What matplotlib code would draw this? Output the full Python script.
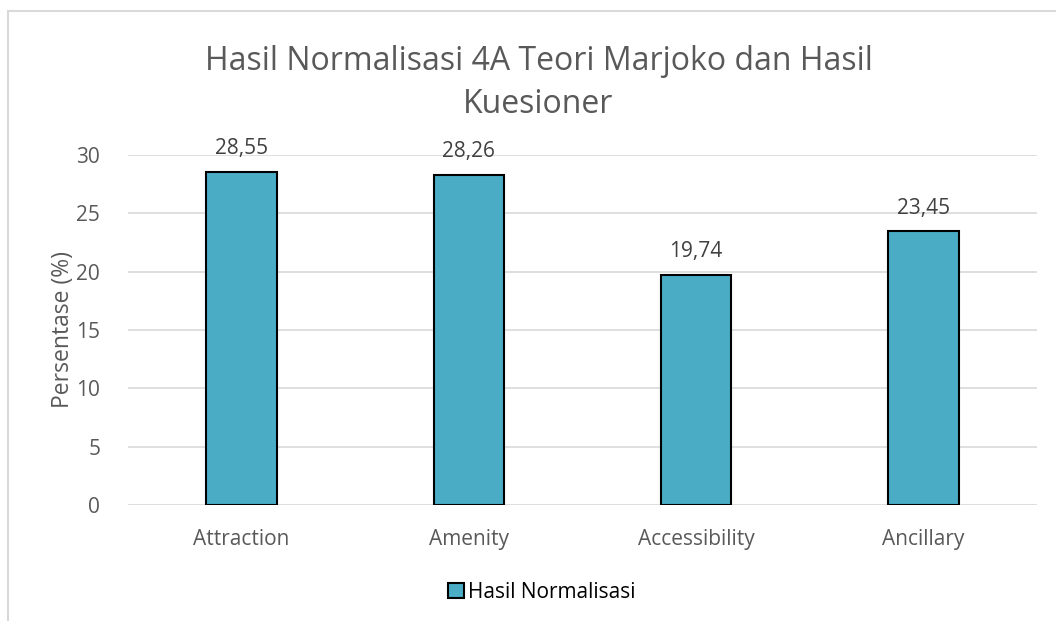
import matplotlib.pyplot as plt
from matplotlib.patches import Rectangle

categories = ["Attraction", "Amenity", "Accessibility", "Ancillary"]
values = [28.55, 28.26, 19.74, 23.45]
labels = ["28,55", "28,26", "19,74", "23,45"]
yticks = [0, 5, 10, 15, 20, 25, 30]

plt.rcParams['font.family'] = ['Open Sans', 'DejaVu Sans']

fig = plt.figure(figsize=(10.56, 6.21), dpi=100)
ax = fig.add_axes([0.1212, 0.1868, 0.8608, 0.5636])

bar_color = "#4BACC6"
bars = ax.bar(range(len(categories)), values, width=0.31, color=bar_color,
              edgecolor="black", linewidth=1.5, zorder=3, label="Hasil Normalisasi")
for b, t in zip(bars, labels):
    ax.text(b.get_x() + b.get_width() / 2, b.get_height() + 1.1, t,
            ha="center", va="bottom", fontsize=15, color="#404040")

ax.set_xlim(-0.5, len(categories) - 0.5)
ax.set_ylim(0, 30)
ax.set_yticks(yticks)
ax.set_xticks(range(len(categories)))
ax.set_xticklabels(categories)
ax.tick_params(axis="both", length=0, labelsize=15, labelcolor="#595959")
ax.tick_params(axis="y", pad=20)
ax.tick_params(axis="x", pad=17)
ax.grid(axis="y", color="#D9D9D9", linewidth=1.2, zorder=0)
for s in ax.spines.values():
    s.set_visible(False)
ax.set_ylabel("Persentase (%)", fontsize=16.5, color="#595959", labelpad=1)

fig.text(0.51, 0.866, "Hasil Normalisasi 4A Teori Marjoko dan Hasil\nKuesioner",
         ha="center", va="center", fontsize=23, color="#595959", linespacing=1.38)

leg = ax.legend(loc="center", bbox_to_anchor=(0.455, -0.25), frameon=False,
                fontsize=15, handlelength=0.75, handleheight=0.75, handletextpad=0.2)
for t in leg.get_texts():
    t.set_color("#000000")

fig.patches.append(Rectangle((7.5 / 1056, -0.1), 1.2, (1 - 10.5 / 621) + 0.1,
                             transform=fig.transFigure, fill=False,
                             edgecolor="#D9D9D9", linewidth=1.5))

fig.savefig("out.png", dpi=100)
